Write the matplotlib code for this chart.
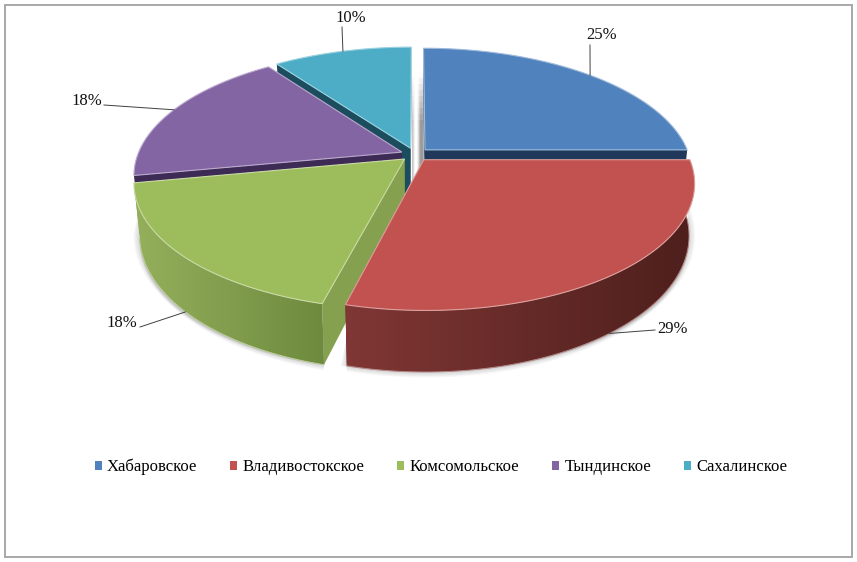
import numpy as np
import matplotlib
matplotlib.use('Agg')
import matplotlib.pyplot as plt
from matplotlib.colors import to_rgb
from matplotlib.patches import Patch, Polygon, Rectangle

# data
names = ['Хабаровское', 'Владивостокское', 'Комсомольское', 'Тындинское', 'Сахалинское']
shares = [25, 29, 18, 18, 10]
top_colors = ['#5082be', '#c2524f', '#9dbc5b', '#8365a4', '#4dadc7']
cut_colors = ['#20395a', '#5a2523', '#85a04e', '#3d2a55', '#1c4d5e']
wall_right = {1: '#4d1f1c', 2: '#6d8a3e'}
wall_left = {1: '#803735', 2: '#95b05c'}
label_pos = [(602, 35), (673, 329), (122, 323), (87, 101), (351, 18)]
leader_end = [(590, 45), (655, 330), (140, 327), (104, 105), (342, 27)]

# projection of the tilted disc
CX, CY = 415, 154.5
RX, RY = 264, 121.5
PERSP = 0.18
DEPTH = 50
EXPLODE = 0.054


def project(c, s, low=False):
    d = 1 + PERSP * s
    x = CX + RX * c / d
    y = CY - RY * s / d
    if low:
        x = CX + (x - CX) * 0.98
        y = y + DEPTH / d
    return x, y


def mix(a, b, t):
    a, b = np.array(to_rgb(a)), np.array(to_rgb(b))
    return tuple(a + (b - a) * t)


fig = plt.figure(figsize=(8.57, 5.62), dpi=100)
ax = fig.add_axes([0, 0, 1, 1])
plt.rcParams['font.family'] = 'Liberation Serif'

ax.add_patch(Rectangle((5.5, 4.5), 847, 552, fill=False, ec='#a8a8a8', lw=1.4))

# wedge angles, clockwise from the top
edges = 90 - np.cumsum([0] + shares) * 3.6
wedges = []
for i in range(len(shares)):
    t1, t2 = edges[i], edges[i + 1]
    mid = np.radians((t1 + t2) / 2)
    wedges.append((np.radians(np.linspace(t1, t2, 90)),
                   EXPLODE * np.cos(mid), EXPLODE * np.sin(mid)))

# soft shadow under the front walls
for k in range(1, 8):
    for i in (1, 2):
        th, ox, oy = wedges[i]
        xs, ys = project(ox + np.cos(th), oy + np.sin(th), low=True)
        keep = np.sin(th) < 0.1
        ax.fill(np.r_[xs[keep], xs[keep][::-1]],
                np.r_[ys[keep] + k * 0.8, ys[keep][::-1] - 40],
                color='#555555', alpha=0.035, lw=0)
        ax.fill(np.r_[xs[keep] + np.sign(np.cos(th[keep])) * k * 0.9, xs[keep][::-1]],
                np.r_[ys[keep], ys[keep][::-1] - 30],
                color='#555555', alpha=0.03, lw=0)

# light strip behind the blue slice, white on top and grey lower down
strip_shades = [.78, .85, .95, 1, 1, .95, .85, .72, .62, .6, .62, .7]
for j, shade in enumerate(strip_shades):
    for yy in np.arange(48, 176, 6):
        a = np.clip((yy - 70) / 50, 0, 1)
        ax.add_patch(Rectangle((412 + j, yy), 1.1, 6.2, lw=0,
                               color=mix('#ffffff', (shade, shade, shade), a)))

for i in (4, 3, 0, 2, 1):
    th, ox, oy = wedges[i]
    # cut faces
    for ang in (th[0], th[-1]):
        x0, y0 = project(ox, oy)
        x1, y1 = project(ox + np.cos(ang), oy + np.sin(ang))
        x2, y2 = project(ox + np.cos(ang), oy + np.sin(ang), low=True)
        x3, y3 = project(ox, oy, low=True)
        ax.fill([x0, x1, x2, x3], [y0, y1, y2, y3], color=cut_colors[i], lw=0)
    # outer wall with a gradient from left to right
    if i in wall_right:
        keep = np.sin(th) < 0.02
        xa, ya = project(ox + np.cos(th[keep]), oy + np.sin(th[keep]))
        xb, yb = project(ox + np.cos(th[keep]), oy + np.sin(th[keep]), low=True)
        poly = Polygon(np.c_[np.r_[xa, xb[::-1]], np.r_[ya, yb[::-1]]], closed=True,
                       fc='none', ec='none', transform=ax.transData)
        ax.add_patch(poly)
        grad = np.array([mix(wall_left[i], wall_right[i], t) for t in np.linspace(0, 1, 256)])
        xmin, xmax = min(xa.min(), xb.min()), max(xa.max(), xb.max())
        ymin, ymax = min(ya.min(), yb.min()), max(ya.max(), yb.max())
        im = ax.imshow(grad[None, :, :], extent=[xmin, xmax, ymax, ymin], aspect='auto', zorder=1)
        im.set_clip_path(poly)
        ax.plot(xb, yb, color=mix(wall_left[i], '#ffffff', 0.4), lw=0.7, zorder=1)
    # top face
    xs, ys = project(ox + np.cos(th), oy + np.sin(th))
    x0, y0 = project(ox, oy)
    ax.fill(np.r_[x0, xs], np.r_[y0, ys], fc=top_colors[i],
            ec=mix(top_colors[i], '#ffffff', 0.45), lw=0.8, zorder=3)

# percent labels with leader lines
for i, share in enumerate(shares):
    th, ox, oy = wedges[i]
    mid = th[len(th) // 2]
    if i in (1, 2):
        sx, sy = project(ox + np.cos(mid), oy + np.sin(mid), low=True)
    else:
        sx, sy = project(ox + np.cos(mid), oy + np.sin(mid))
    ax.plot([sx, leader_end[i][0]], [sy, leader_end[i][1]], color='#404040', lw=0.7, zorder=4)
    ax.text(label_pos[i][0], label_pos[i][1], f'{share}%', ha='center', va='center',
            fontsize=12, family='Liberation Serif', color='#111111', zorder=5)

handles = [Patch(fc=c, ec='none') for c in top_colors]
ax.legend(handles, names, loc='center', bbox_to_anchor=(441 / 857, 1 - 467 / 562), ncol=5,
          frameon=False, prop={'family': 'Liberation Serif', 'size': 12},
          handlelength=0.42, handleheight=0.42, handletextpad=0.3, columnspacing=2.0)

ax.set_xlim(0, 857)
ax.set_ylim(562, 0)
ax.axis('off')

fig.savefig('out.png', dpi=100)
